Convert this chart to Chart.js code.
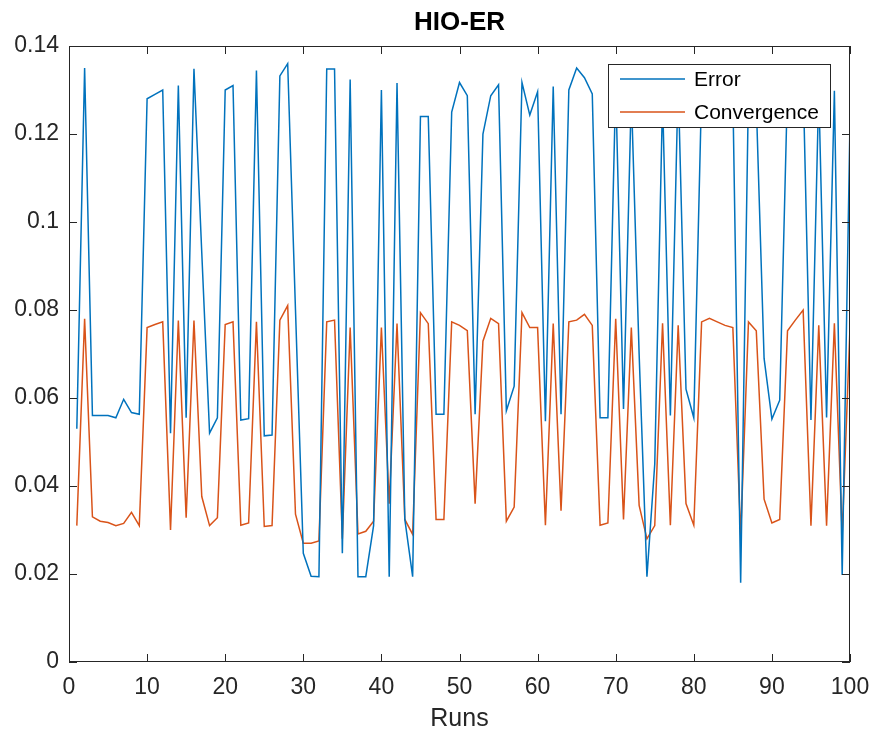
<!DOCTYPE html>
<html>
<head>
<meta charset="utf-8">
<title>HIO-ER</title>
<script src="https://cdn.jsdelivr.net/npm/chart.js@4.4.1/dist/chart.umd.min.js"></script>
<style>
  html, body { margin: 0; padding: 0; background: #fff; }
  #wrap { width: 876px; height: 740px; }
</style>
</head>
<body>
<div id="wrap"><canvas id="chart" width="876" height="740"></canvas></div>
<script>
const chartTitle = 'HIO-ER';
const xLabel = 'Runs';
const seriesNames = ['Error', 'Convergence'];

// runs 1..100 on the x axis
const runs = Array.from({ length: 100 }, (_, i) => i + 1);

const errorValues = [
  0.053, 0.135, 0.056, 0.056, 0.056, 0.0555, 0.0597, 0.0567, 0.0563, 0.128,
  0.129, 0.130, 0.052, 0.131, 0.0555, 0.1348, 0.093, 0.052, 0.0555, 0.130,
  0.131, 0.055, 0.0553, 0.1344, 0.0514, 0.0516, 0.1332, 0.136, 0.080, 0.0247,
  0.0195, 0.0194, 0.1348, 0.1348, 0.0247, 0.1324, 0.0194, 0.0194, 0.031, 0.130,
  0.0194, 0.1316, 0.0324, 0.0194, 0.124, 0.124, 0.0563, 0.0563, 0.125, 0.1317,
  0.1287, 0.0563, 0.120, 0.1287, 0.1312, 0.0571, 0.0627, 0.1317, 0.1243, 0.1296,
  0.0547, 0.1308, 0.0563, 0.130, 0.135, 0.1328, 0.1291, 0.0555, 0.0555, 0.131,
  0.0575, 0.129, 0.070, 0.0194, 0.045, 0.128, 0.056, 0.132, 0.062, 0.0555,
  0.130, 0.133, 0.128, 0.131, 0.129, 0.018, 0.130, 0.127, 0.069, 0.0552,
  0.0595, 0.131, 0.128, 0.132, 0.055, 0.130, 0.0556, 0.1298, 0.0198, 0.123
];

const convergenceValues = [
  0.031, 0.078, 0.033, 0.032, 0.0317, 0.031, 0.0315, 0.034, 0.031, 0.076,
  0.0767, 0.0773, 0.030, 0.0776, 0.0328, 0.0776, 0.0376, 0.031, 0.0328, 0.0767,
  0.0773, 0.0311, 0.0316, 0.0773, 0.0308, 0.031, 0.0777, 0.081, 0.0336, 0.027,
  0.027, 0.0275, 0.0773, 0.0777, 0.028, 0.076, 0.0291, 0.0297, 0.032, 0.076,
  0.036, 0.0769, 0.0324, 0.029, 0.0794, 0.0769, 0.0324, 0.0324, 0.0773, 0.0765,
  0.0753, 0.036, 0.0729, 0.0781, 0.0769, 0.032, 0.0352, 0.0794, 0.076, 0.076,
  0.0311, 0.0769, 0.0344, 0.0773, 0.0777, 0.079, 0.0765, 0.0311, 0.0316, 0.078,
  0.0324, 0.076, 0.0356, 0.028, 0.031, 0.077, 0.0311, 0.0765, 0.036, 0.0311,
  0.0773, 0.0781, 0.0773, 0.0765, 0.076, 0.0287, 0.0773, 0.0753, 0.037, 0.0316,
  0.0324, 0.0753, 0.0777, 0.080, 0.031, 0.0765, 0.031, 0.077, 0.029, 0.076
];

const xTicks = [0, 10, 20, 30, 40, 50, 60, 70, 80, 90, 100];
const yTicks = [0, 0.02, 0.04, 0.06, 0.08, 0.10, 0.12, 0.14];
const yTickLabels = ['0', '0.02', '0.04', '0.06', '0.08', '0.1', '0.12', '0.14'];

const fontFamily = "'Liberation Sans', Arial, Helvetica, sans-serif";
const axisColor = '#262626';
const lineColors = ['#0072BD', '#D95319'];

// box round the axes, inward tick marks, legend and title, drawn the matlab way
const matlabFrame = {
  id: 'matlabFrame',
  afterDatasetsDraw(chart) {
    const { ctx, chartArea: a, scales } = chart;
    const tickLen = 8;
    ctx.save();
    ctx.strokeStyle = axisColor;
    ctx.lineWidth = 1;
    ctx.strokeRect(a.left + 0.5, a.top + 0.5, a.right - a.left - 1, a.bottom - a.top - 1);

    ctx.beginPath();
    xTicks.forEach(v => {
      const px = Math.round(scales.x.getPixelForValue(v)) + 0.5;
      ctx.moveTo(px, a.bottom);
      ctx.lineTo(px, a.bottom - tickLen);
      ctx.moveTo(px, a.top);
      ctx.lineTo(px, a.top + tickLen);
    });
    yTicks.forEach(v => {
      const py = Math.round(scales.y.getPixelForValue(v)) + 0.5;
      ctx.moveTo(a.left, py);
      ctx.lineTo(a.left + tickLen, py);
      ctx.moveTo(a.right, py);
      ctx.lineTo(a.right - tickLen, py);
    });
    ctx.stroke();

    // legend box, top right inside the axes
    const boxRight = a.right - 20;
    const boxLeft = boxRight - 222;
    const boxTop = a.top + 18;
    const boxBottom = boxTop + 63;
    ctx.fillStyle = '#ffffff';
    ctx.fillRect(boxLeft, boxTop, boxRight - boxLeft, boxBottom - boxTop);
    ctx.strokeStyle = '#262626';
    ctx.strokeRect(boxLeft + 0.5, boxTop + 0.5, boxRight - boxLeft, boxBottom - boxTop);

    ctx.font = '21px ' + fontFamily;
    ctx.textAlign = 'left';
    ctx.textBaseline = 'middle';
    chart.data.datasets.forEach((ds, i) => {
      const rowY = boxTop + 15 + i * 33;
      ctx.strokeStyle = ds.borderColor;
      ctx.lineWidth = 1.5;
      ctx.beginPath();
      ctx.moveTo(boxLeft + 12, rowY);
      ctx.lineTo(boxLeft + 77, rowY);
      ctx.stroke();
      ctx.fillStyle = '#000000';
      ctx.fillText(ds.label, boxLeft + 86, rowY + 1);
    });

    // title centred on the axes
    ctx.font = 'bold 26px ' + fontFamily;
    ctx.fillStyle = '#000000';
    ctx.textAlign = 'center';
    ctx.fillText(chartTitle, (a.left + a.right) / 2, 23);
    ctx.restore();
  }
};

const ctx = document.getElementById('chart').getContext('2d');
new Chart(ctx, {
  type: 'line',
  data: {
    datasets: [{
      label: seriesNames[0],
      data: runs.map((r, i) => ({ x: r, y: errorValues[i] })),
      borderColor: lineColors[0],
      borderWidth: 1.5,
      pointRadius: 0,
      tension: 0,
      fill: false
    }, {
      label: seriesNames[1],
      data: runs.map((r, i) => ({ x: r, y: convergenceValues[i] })),
      borderColor: lineColors[1],
      borderWidth: 1.5,
      pointRadius: 0,
      tension: 0,
      fill: false
    }]
  },
  options: {
    responsive: false,
    animation: false,
    layout: {
      padding: { top: 46, right: 26, left: 0, bottom: 0 }
    },
    plugins: {
      legend: { display: false },
      title: { display: false },
      tooltip: { enabled: false }
    },
    scales: {
      x: {
        type: 'linear',
        min: 0,
        max: 100,
        afterFit: scale => {
          scale.height = 78;
          scale.paddingLeft = 0;
          scale.paddingRight = 0;
        },
        afterBuildTicks: scale => { scale.ticks = xTicks.map(v => ({ value: v })); },
        grid: { display: false, drawTicks: false },
        border: { display: false },
        ticks: {
          color: axisColor,
          padding: 12,
          maxRotation: 0,
          font: { family: fontFamily, size: 23 },
          callback: value => String(value)
        },
        title: {
          display: true,
          text: xLabel,
          color: axisColor,
          padding: { top: 0, bottom: 6 },
          font: { family: fontFamily, size: 25 }
        }
      },
      y: {
        min: 0,
        max: 0.14,
        afterFit: scale => {
          scale.width = 69;
          scale.paddingTop = 0;
          scale.paddingBottom = 0;
        },
        afterBuildTicks: scale => { scale.ticks = yTicks.map(v => ({ value: v })); },
        grid: { display: false, drawTicks: false },
        border: { display: false },
        ticks: {
          color: axisColor,
          padding: 10,
          font: { family: fontFamily, size: 23 },
          callback: (value, index) => yTickLabels[index]
        }
      }
    }
  },
  plugins: [matlabFrame]
});
</script>
</body>
</html>
